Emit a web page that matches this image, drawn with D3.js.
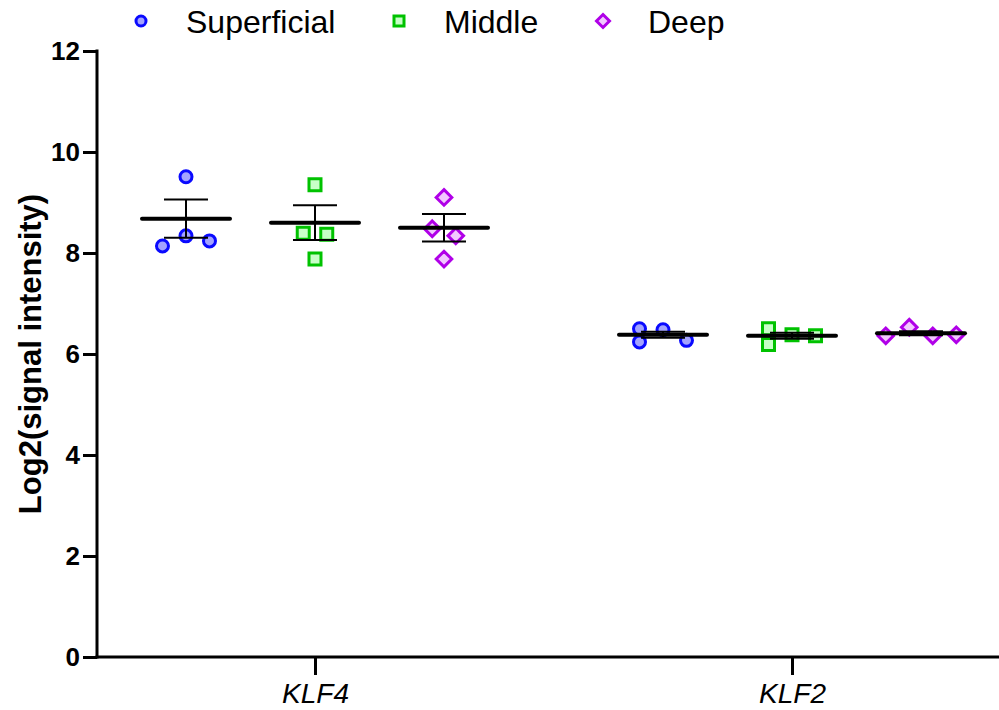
<!DOCTYPE html>
<html>
<head>
<meta charset="utf-8">
<script src="https://cdn.jsdelivr.net/npm/d3@7"></script>
<style>
  html, body { margin: 0; padding: 0; background: #fff; }
  svg { display: block; font-family: "Liberation Sans", Arial, sans-serif; }
</style>
</head>
<body>
<svg id="chart" width="999" height="710"></svg>
<script>
// ---------------- data ----------------
const categories = ["KLF4", "KLF2"];
const seriesNames = ["Superficial", "Middle", "Deep"];
const yTicks = [0, 2, 4, 6, 8, 10, 12];
const yLabel = "Log2(signal intensity)";

// individual points per series, per category
const superficialKLF4 = [9.51, 8.34, 8.14, 8.24];
const middleKLF4      = [9.35, 8.39, 8.37, 7.88];
const deepKLF4        = [9.10, 8.48, 8.34, 7.88];
const superficialKLF2 = [6.50, 6.24, 6.48, 6.27];
const middleKLF2      = [6.50, 6.19, 6.38, 6.36];
const deepKLF2        = [6.36, 6.53, 6.36, 6.38];

// side-by-side slot of each point (scatter spread)
const spreadKLF4 = [[0, 0, -1, 1], [0, -0.5, 0.5, 0], [0, -0.5, 0.5, 0]];
const spreadKLF2 = [[-1, -1, 0, 1], [-1, -1, 0, 1], [-1.5, -0.5, 0.5, 1.5]];

// mean and SEM per series [Superficial, Middle, Deep]
const meanKLF4 = [8.68, 8.60, 8.50];
const semKLF4  = [0.38, 0.345, 0.27];
const meanKLF2 = [6.38, 6.36, 6.41];
const semKLF2  = [0.06, 0.06, 0.04];

// ---------------- build ----------------
const pointsBy = {
  KLF4: [superficialKLF4, middleKLF4, deepKLF4],
  KLF2: [superficialKLF2, middleKLF2, deepKLF2]
};
const spreadBy = { KLF4: spreadKLF4, KLF2: spreadKLF2 };
const meanBy = { KLF4: meanKLF4, KLF2: meanKLF2 };
const semBy = { KLF4: semKLF4, KLF2: semKLF2 };

const styles = {
  Superficial: { stroke: "#0a0aff", fill: "#a3a3ff", shape: "circle" },
  Middle:      { stroke: "#00c200", fill: "#c8ffc8", shape: "square" },
  Deep:        { stroke: "#b000e8", fill: "#f2c8ff", shape: "diamond" }
};

const svg = d3.select("#chart");
const W = 999, H = 710;
const axisX = 97, axisBottom = 657, axisTop = 51;

const y = d3.scaleLinear().domain([0, 12]).range([axisBottom, axisTop]);
const x = d3.scalePoint().domain(categories).range([axisX, 1010]).padding(0.457);
const groupOffset = d3.scalePoint().domain(seriesNames).range([-129, 129]);
const spread = d3.scaleLinear().domain([-1, 1]).range([-23.5, 23.5]);

function markerPath(shape, s) {
  if (shape === "circle") {
    return d3.symbol().type(d3.symbolCircle).size(Math.PI * s * s)();
  } else if (shape === "square") {
    return `M${-s},${-s}H${s}V${s}H${-s}Z`;
  } else {
    const d = s * 1.3;
    return `M0,${-d}L${d},0L0,${d}L${-d},0Z`;
  }
}

// ---- axes ----
const yAxis = d3.axisLeft(y).tickValues(yTicks).tickSize(14).tickPadding(3);
const gy = svg.append("g").attr("transform", `translate(${axisX},0)`).call(yAxis);
gy.select(".domain").attr("stroke-width", 3).attr("d", `M0,${axisTop - 1.5}V${axisBottom + 1.5}`);
gy.selectAll(".tick line").attr("stroke-width", 3);
gy.selectAll(".tick text")
  .attr("font-family", "Liberation Sans, Arial, sans-serif")
  .attr("font-size", 26).attr("font-weight", "bold").attr("fill", "#000");

const xAxis = d3.axisBottom(x).tickSize(18).tickPadding(8).tickSizeOuter(0);
const gx = svg.append("g").attr("transform", `translate(0,${axisBottom})`).call(xAxis);
gx.select(".domain").attr("stroke-width", 3).attr("d", `M${axisX - 1.5},0H${W + 10}`);
gx.selectAll(".tick line").attr("stroke-width", 3);
gx.selectAll(".tick text")
  .attr("font-family", "Liberation Sans, Arial, sans-serif")
  .attr("font-size", 28).attr("font-style", "italic").attr("fill", "#000");

svg.append("text")
  .attr("transform", `translate(41,${(axisTop + axisBottom) / 2}) rotate(-90)`)
  .attr("text-anchor", "middle")
  .attr("font-size", 31).attr("font-weight", "bold")
  .text(yLabel);

// ---- points ----
const pts = [];
categories.forEach(cat => {
  seriesNames.forEach((s, si) => {
    pointsBy[cat][si].forEach((v, i) => {
      pts.push({ cat, s, v, slot: spreadBy[cat][si][i] });
    });
  });
});

svg.append("g").selectAll("path").data(pts).join("path")
  .attr("transform", d => `translate(${x(d.cat) + groupOffset(d.s) + spread(d.slot)},${y(d.v)})`)
  .attr("d", d => markerPath(styles[d.s].shape, 6))
  .attr("fill", d => styles[d.s].fill)
  .attr("stroke", d => styles[d.s].stroke)
  .attr("stroke-width", 3);

// ---- mean & error bars ----
const stats = [];
categories.forEach(cat => {
  seriesNames.forEach((s, si) => {
    stats.push({ cat, s, m: meanBy[cat][si], e: semBy[cat][si] });
  });
});
const gs = svg.append("g").attr("stroke", "#000").attr("fill", "none");
stats.forEach(d => {
  const cx = x(d.cat) + groupOffset(d.s);
  gs.append("line").attr("x1", cx).attr("x2", cx)
    .attr("y1", y(d.m + d.e)).attr("y2", y(d.m - d.e)).attr("stroke-width", 2);
  [d.m + d.e, d.m - d.e].forEach(v => {
    gs.append("line").attr("x1", cx - 22).attr("x2", cx + 22)
      .attr("y1", y(v)).attr("y2", y(v)).attr("stroke-width", 2);
  });
  gs.append("line").attr("x1", cx - 44).attr("x2", cx + 44)
    .attr("y1", y(d.m)).attr("y2", y(d.m)).attr("stroke-width", 4).attr("stroke-linecap", "round");
});

// ---- legend ----
const legendX = [141, 399, 603];
const lg = svg.append("g");
seriesNames.forEach((s, i) => {
  lg.append("path")
    .attr("transform", `translate(${legendX[i]},21)`)
    .attr("d", markerPath(styles[s].shape, 5))
    .attr("fill", styles[s].fill).attr("stroke", styles[s].stroke).attr("stroke-width", 3);
  lg.append("text").attr("x", legendX[i] + 45).attr("y", 33)
    .attr("font-size", 32).attr("fill", "#000").text(s);
});
</script>
</body>
</html>
